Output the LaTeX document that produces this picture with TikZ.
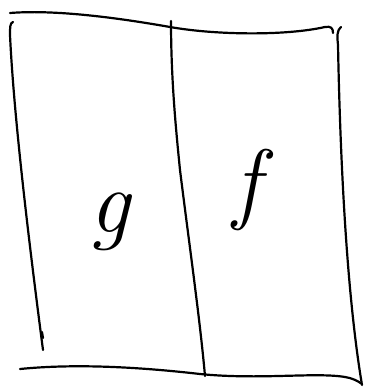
\documentclass[tikz,border=0pt]{standalone}
\begin{document}
\begin{tikzpicture}[x=1pt,y=-1pt,
  stroke/.style={line width=2.2pt,line cap=round,line join=round,black},
  letter/.style={inner sep=0pt,font=\fontsize{90}{90}\selectfont\itshape}]
\useasboundingbox (0,0) rectangle (364,390);
% top edge
\draw[stroke] (10,13) .. controls (60,9) and (130,20) .. (170,27)
  .. controls (215,35) and (285,36) .. (325,27) .. controls (331,26) and (333,28) .. (333,33);
% left edge
\draw[stroke] (13,22) .. controls (10,23) and (10,27) .. (10,35)
  .. controls (14,120) and (30,250) .. (43,350);
\draw[stroke] (42,332) -- (43,338);
% middle divider
\draw[stroke] (171,21) .. controls (171,80) and (176,130) .. (180,170)
  .. controls (190,250) and (200,320) .. (205,376);
% right edge
\draw[stroke] (341,27) .. controls (337,30) and (337,36) .. (338,45)
  .. controls (340,150) and (346,290) .. (362,385);
% bottom edge
\draw[stroke] (20,369) .. controls (70,364) and (130,366) .. (200,374)
  .. controls (260,380) and (315,372) .. (345,377) .. controls (352,378) and (358,381) .. (362,384);
% labels
\node[letter] (g) at (110,222) {g};
\node[letter] (f) at (247,190) {f};
\end{tikzpicture}
\end{document}
